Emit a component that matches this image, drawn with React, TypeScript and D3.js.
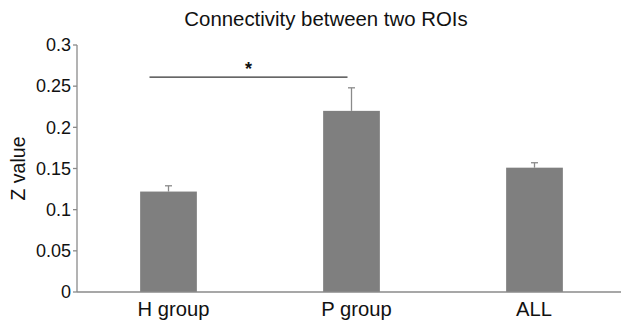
import React from "react";
import * as d3 from "d3";

const categories = ["H group", "P group", "ALL"];
const means = [0.122, 0.22, 0.151];
const errors = [0.007, 0.028, 0.006];
const yTicks = [0, 0.05, 0.1, 0.15, 0.2, 0.25, 0.3];
const yTickLabels = ["0", "0.05", "0.1", "0.15", "0.2", "0.25", "0.3"];
const title = "Connectivity between two ROIs";
const yLabel = "Z value";
const sigPair = ["H group", "P group"];

const W = 621;
const H = 322;
const FONT = "Arial, 'Liberation Sans', sans-serif";
const LABEL_NUDGE = [5, 5, -0.5];

export default function App() {
  const x = d3.scaleBand<string>().domain(categories).range([77, 626]).paddingInner(0.69).paddingOuter(0.345);
  const y = d3.scaleLinear().domain([0, 0.3]).range([292, 45]);
  const bw = x.bandwidth();
  const c = (k: string) => (x(k) as number) + bw / 2;
  const sigY = y(0.261);
  return (
    <svg width={W} height={H} style={{ position: "absolute", left: 0, top: 0, background: "#fff" }}>
      <text x={326} y={26} textAnchor="middle" fontFamily={FONT} fontSize={20.4} fill="#111">{title}</text>
      {categories.map((k, i) => (
        <g key={k}>
          <line x1={c(k)} x2={c(k)} y1={y(means[i])} y2={y(means[i] + errors[i])} stroke="#8a8a8a" strokeWidth={1.3} />
          <line x1={c(k) - 3.5} x2={c(k) + 3.5} y1={y(means[i] + errors[i])} y2={y(means[i] + errors[i])} stroke="#8a8a8a" strokeWidth={1.3} />
          <rect x={x(k)} y={y(means[i])} width={bw} height={y(0) - y(means[i])} fill="#7f7f7f" />
          <text x={c(k) + LABEL_NUDGE[i]} y={316} textAnchor="middle" fontFamily={FONT} fontSize={20.2} fill="#111">{k}</text>
        </g>
      ))}
      <line x1={77} x2={77} y1={y(0.3)} y2={y(0)} stroke="#8a8a8a" strokeWidth={1.3} />
      <line x1={77} x2={621} y1={y(0)} y2={y(0)} stroke="#8a8a8a" strokeWidth={1.3} />
      {yTicks.map((t, i) => (
        <g key={t}>
          <line x1={73} x2={77} y1={y(t)} y2={y(t)} stroke="#8a8a8a" strokeWidth={1.3} />
          <text x={71} y={y(t)} dy="0.35em" textAnchor="end" fontFamily={FONT} fontSize={18} fill="#111">{yTickLabels[i]}</text>
        </g>
      ))}
      <text transform={`translate(25,${(y(0) + y(0.3)) / 2}) rotate(-90)`} textAnchor="middle" fontFamily={FONT} fontSize={19.5} fill="#111">{yLabel}</text>
      <line x1={c(sigPair[0]) - 19} x2={c(sigPair[1]) - 4} y1={sigY} y2={sigY} stroke="#333" strokeWidth={1.3} />
      <text x={(c(sigPair[0]) - 19 + c(sigPair[1]) - 4) / 2} y={sigY - 2} textAnchor="middle" fontFamily={FONT} fontSize={18} fontWeight="bold" fill="#111">*</text>
    </svg>
  );
}
